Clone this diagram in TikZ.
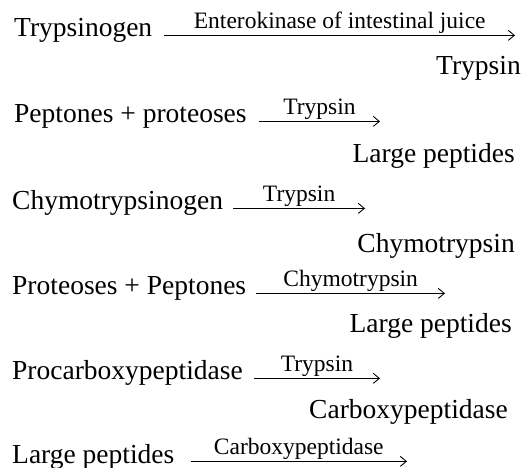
\documentclass[tikz,border=0pt]{standalone}
\usepackage{fontspec}
\setmainfont{Liberation Serif}
\usetikzlibrary{positioning, arrows.meta}

\begin{document}
\begin{tikzpicture}[x=1pt, y=-1pt,
        subst/.style={anchor=base west, inner xsep=0pt, text height=0.66em, text depth=0.34em, font=\fontsize{27.5}{33}\selectfont},
        prod/.style={anchor=base east, inner xsep=0pt, font=\fontsize{27.5}{33}\selectfont},
        enz/.style={above=6pt, inner sep=0pt, text depth=0pt, font=\fontsize{23.5}{28}\selectfont},
        rxn/.style={-{Straight Barb[length=6pt, width=10pt]}, line width=0.9pt}]
                \useasboundingbox (0,0) rectangle (523,468);
                \node[subst] (s1) at (14,37) {Trypsinogen};
                \node[subst] (s2) at (14,123) {Peptones + proteoses};
                \node[subst] (s3) at (12,210) {Chymotrypsinogen};
                \node[subst] (s4) at (12,295) {Proteoses + Peptones};
                \node[subst] (s5) at (12,380) {Procarboxypeptidase};
                \node[subst] (s6) at (12,463) {Large peptides};
                \coordinate (e1) at (515,0);
                \coordinate (e2) at (380,0);
                \coordinate (e3) at (365,0);
                \coordinate (e4) at (445,0);
                \coordinate (e5) at (380,0);
                \coordinate (e6) at (407,0);
                \draw[rxn] ([xshift=12pt]s1.east) -- node[enz] (n1) {Enterokinase of intestinal juice} (s1.east -| e1);
                \draw[rxn] ([xshift=12pt]s2.east) -- node[enz] (n2) {Trypsin} (s2.east -| e2);
                \draw[rxn] ([xshift=10pt]s3.east) -- node[enz] (n3) {Trypsin} (s3.east -| e3);
                \draw[rxn] ([xshift=10pt]s4.east) -- node[enz] (n4) {Chymotrypsin} (s4.east -| e4);
                \draw[rxn] ([xshift=11pt]s5.east) -- node[enz] (n5) {Trypsin} (s5.east -| e5);
                \draw[rxn] ([xshift=16pt]s6.east) -- node[enz] (n6) {Carboxypeptidase} (s6.east -| e6);
                \node[prod] (p1) at (521,75) {Trypsin};
                \node[prod] (p2) at (515,163) {Large peptides};
                \node[prod] (p3) at (515,253) {Chymotrypsin};
                \node[prod] (p4) at (512,333) {Large peptides};
                \node[prod] (p5) at (508,418) {Carboxypeptidase};
\end{tikzpicture}
\end{document}
